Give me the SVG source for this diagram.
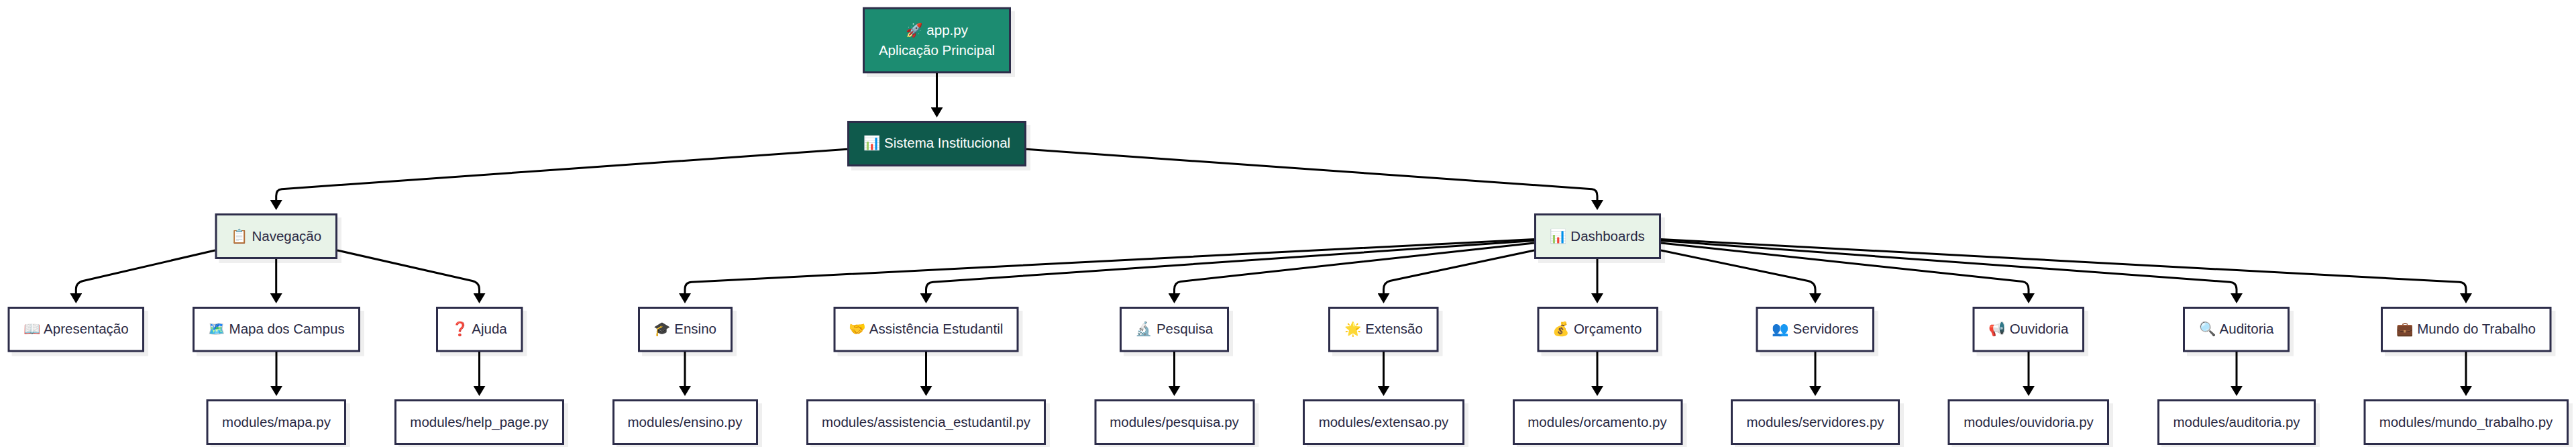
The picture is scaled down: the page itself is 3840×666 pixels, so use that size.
<svg xmlns="http://www.w3.org/2000/svg" width="3840" height="666" viewBox="0 0 3840 666">
<style>
text{font-family:"Liberation Sans","Noto Color Emoji",sans-serif;font-size:20.5px;text-anchor:middle;fill:#2a2a44}
.w{fill:#fff}
.s{fill:#efefef;stroke:none}
.b{stroke:#2d2d4a;stroke-width:3;fill:#fff}
.l{fill:#e8f3e8}
.t{fill:#1c8c71}
.d{fill:#0f5a4c}
#edges path{fill:none;stroke:#000;stroke-width:3;marker-end:url(#a)}
</style>
<defs><marker id="a" markerUnits="userSpaceOnUse" viewBox="0 0 15 18" refX="0" refY="9" markerWidth="15" markerHeight="18" orient="auto"><path d="M0,0L15,9L0,18z" fill="#000"/></marker></defs>
<rect width="3840" height="666" fill="#fff"/>
<g id="app"><rect class="s" x="1292" y="16.5" width="221" height="98.5"/><rect class="b t" x="1287.5" y="12.2" width="218" height="95.6"/><text class="w" x="1396.5" y="51.7">🚀 app.py</text><text class="w" x="1396.5" y="81.7">Aplicação Principal</text></g>
<g id="sistema"><rect class="s" x="1269" y="186" width="267" height="68"/><rect class="b d" x="1264.5" y="181.5" width="264" height="65"/><text class="w" x="1396.5" y="220">📊 Sistema Institucional</text></g>
<g id="navegacao"><rect class="s" x="326.5" y="324" width="182.500" height="68"/><rect class="b l" x="322" y="319.500" width="179.500" height="65"/><text x="411.700" y="359">📋 Navegação</text></g>
<g id="dashboards"><rect class="s" x="2293" y="324" width="189" height="68"/><rect class="b l" x="2288.500" y="319.500" width="186" height="65"/><text x="2381" y="359">📊 Dashboards</text></g>
<g id="apresentacao"><rect class="s" x="17.500" y="463" width="203.500" height="67.500"/><rect class="b" x="13" y="458.500" width="200.500" height="64.500"/><text x="113.300" y="497.300">📖 Apresentação</text></g>
<g id="mapa"><rect class="s" x="293" y="463" width="250" height="67.500"/><rect class="b" x="288.500" y="458.500" width="247" height="64.500"/><text x="412" y="497.300">🗺️ Mapa dos Campus</text></g>
<g id="ajuda"><rect class="s" x="656" y="463" width="129.500" height="67.500"/><rect class="b" x="651.500" y="458.500" width="126.500" height="64.500"/><text x="714.500" y="497.300">❓ Ajuda</text></g>
<g id="ensino"><rect class="s" x="957" y="463" width="141" height="67.500"/><rect class="b" x="952.500" y="458.500" width="138" height="64.500"/><text x="1021" y="497.300">🎓 Ensino</text></g>
<g id="assistencia"><rect class="s" x="1248.500" y="463" width="276" height="67.500"/><rect class="b" x="1244" y="458.500" width="273" height="64.500"/><text x="1380.500" y="497.300">🤝 Assistência Estudantil</text></g>
<g id="pesquisa"><rect class="s" x="1675" y="463" width="163" height="67.500"/><rect class="b" x="1670.500" y="458.500" width="160" height="64.500"/><text x="1750.500" y="497.300">🔬 Pesquisa</text></g>
<g id="extensao"><rect class="s" x="1986" y="463" width="164.500" height="67.500"/><rect class="b" x="1981.500" y="458.500" width="161.500" height="64.500"/><text x="2062.500" y="497.300">🌟 Extensão</text></g>
<g id="orcamento"><rect class="s" x="2297.500" y="463" width="180.500" height="67.500"/><rect class="b" x="2293" y="458.500" width="177.500" height="64.500"/><text x="2381" y="497.300">💰 Orçamento</text></g>
<g id="servidores"><rect class="s" x="2623.500" y="463" width="176.500" height="67.500"/><rect class="b" x="2619" y="458.500" width="173.500" height="64.500"/><text x="2706" y="497.300">👥 Servidores</text></g>
<g id="ouvidoria"><rect class="s" x="2946.500" y="463" width="166.500" height="67.500"/><rect class="b" x="2942" y="458.500" width="163.500" height="64.500"/><text x="3024" y="497.300">📢 Ouvidoria</text></g>
<g id="auditoria"><rect class="s" x="3260" y="463" width="159" height="67.500"/><rect class="b" x="3255.500" y="458.500" width="156" height="64.500"/><text x="3334" y="497.300">🔍 Auditoria</text></g>
<g id="mundo"><rect class="s" x="3555" y="463" width="254.500" height="67.500"/><rect class="b" x="3550.500" y="458.500" width="251.500" height="64.500"/><text x="3676" y="497.300">💼 Mundo do Trabalho</text></g>
<g id="mod-mapa"><rect class="s" x="313.500" y="601" width="208.500" height="68"/><rect class="b" x="309" y="596.500" width="205.500" height="65"/><text x="412" y="636">modules/mapa.py</text></g>
<g id="mod-help"><rect class="s" x="594" y="601" width="253" height="68"/><rect class="b" x="589.500" y="596.500" width="250" height="65"/><text x="714.500" y="636">modules/help_page.py</text></g>
<g id="mod-ensino"><rect class="s" x="919" y="601" width="217" height="68"/><rect class="b" x="914.500" y="596.500" width="214" height="65"/><text x="1021" y="636">modules/ensino.py</text></g>
<g id="mod-assistencia"><rect class="s" x="1208" y="601" width="357" height="68"/><rect class="b" x="1203.500" y="596.500" width="354" height="65"/><text x="1380.500" y="636">modules/assistencia_estudantil.py</text></g>
<g id="mod-pesquisa"><rect class="s" x="1637.500" y="601" width="239" height="68"/><rect class="b" x="1633" y="596.500" width="236" height="65"/><text x="1750.500" y="636">modules/pesquisa.py</text></g>
<g id="mod-extensao"><rect class="s" x="1948" y="601" width="241" height="68"/><rect class="b" x="1943.500" y="596.500" width="238" height="65"/><text x="2062.500" y="636">modules/extensao.py</text></g>
<g id="mod-orcamento"><rect class="s" x="2261" y="601" width="253.500" height="68"/><rect class="b" x="2256.500" y="596.500" width="250.500" height="65"/><text x="2381" y="636">modules/orcamento.py</text></g>
<g id="mod-servidores"><rect class="s" x="2586" y="601" width="252" height="68"/><rect class="b" x="2581.500" y="596.500" width="249" height="65"/><text x="2706" y="636">modules/servidores.py</text></g>
<g id="mod-ouvidoria"><rect class="s" x="2909.500" y="601" width="240.500" height="68"/><rect class="b" x="2905" y="596.500" width="237.500" height="65"/><text x="3024" y="636">modules/ouvidoria.py</text></g>
<g id="mod-auditoria"><rect class="s" x="3222" y="601" width="236" height="68"/><rect class="b" x="3217.500" y="596.500" width="233" height="65"/><text x="3334" y="636">modules/auditoria.py</text></g>
<g id="mod-mundo"><rect class="s" x="3529.500" y="601" width="305.500" height="68"/><rect class="b" x="3525" y="596.500" width="302.500" height="65"/><text x="3676" y="636">modules/mundo_trabalho.py</text></g>
<g id="edges">
<path d="M1396.5,109V160"/>
<path d="M1263,222.3L420,281.7Q411.7,282.3 411.7,292V298"/>
<path d="M1530,222.3L2373,281.7Q2381,282.3 2381,292V298"/>
<path d="M320.5,373L124,418.5Q113.3,421 113.3,431V437"/>
<path d="M411.7,386V437"/>
<path d="M503,373L704,418.5Q714.5,421 714.5,431V437"/>
<path d="M412,524V575"/>
<path d="M714.5,524V575"/>
<path d="M2287,356.5L1031,420.3Q1021,420.8 1021,431V437"/>
<path d="M2287,358.5L1391,420.2Q1380.5,421 1380.5,431V437"/>
<path d="M2287,362L1760,419.5Q1750.5,421 1750.5,431V437"/>
<path d="M2287,373L2072,418.5Q2062.5,421 2062.5,431V437"/>
<path d="M2381,386V437"/>
<path d="M2476,373L2695,418.5Q2706,421 2706,431V437"/>
<path d="M2476,362L3015,419.5Q3024,421 3024,431V437"/>
<path d="M2476,358.5L3324,420.2Q3334,421 3334,431V437"/>
<path d="M2476,356.5L3666,420.3Q3676,420.8 3676,431V437"/>
<path d="M1021,524V575"/>
<path d="M1380.5,524V575"/>
<path d="M1750.5,524V575"/>
<path d="M2062.5,524V575"/>
<path d="M2381,524V575"/>
<path d="M2706,524V575"/>
<path d="M3024,524V575"/>
<path d="M3334,524V575"/>
<path d="M3676,524V575"/>
</g>
</svg>
